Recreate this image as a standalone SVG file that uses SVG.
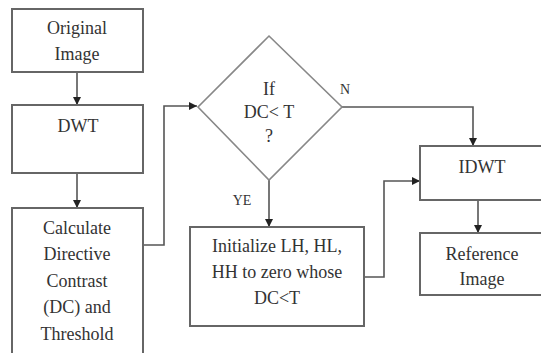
<svg xmlns="http://www.w3.org/2000/svg" width="541" height="353" viewBox="0 0 541 353">
<defs>
<marker id="ah" viewBox="0 0 10 10" refX="10" refY="5" markerWidth="8" markerHeight="8" markerUnits="userSpaceOnUse" orient="auto">
<path d="M0,0 L10,5 L0,10 Z" fill="#222"/>
</marker>
<style>
.box{fill:#fff;stroke:#666;stroke-width:2}
text{font-family:'Liberation Serif','Times New Roman',Times,'DejaVu Serif','Noto Serif',FreeSerif,serif}
.t{font-size:18px;fill:#333;text-anchor:middle}
.s{font-size:14px;fill:#333;text-anchor:middle}
.c{fill:none;stroke:#555;stroke-width:1.6}
</style>
</defs>
<rect width="541" height="353" fill="#fff"/>
<g id="connectors">
<path class="c" d="M77,72 V105" marker-end="url(#ah)"/>
<path class="c" d="M77,173 V208" marker-end="url(#ah)"/>
<path class="c" d="M143,245 H164 V106 H197" marker-end="url(#ah)"/>
<path class="c" d="M342,107 H473 V146" marker-end="url(#ah)"/>
<path class="c" d="M269,180 V227" marker-end="url(#ah)"/>
<path class="c" d="M364,277 H384 V181 H420" marker-end="url(#ah)"/>
<path class="c" d="M478,200 V233" marker-end="url(#ah)"/>
<text class="s" x="345" y="94">N</text>
<text class="s" x="242" y="205">YE</text>
</g>
<g id="original">
<rect class="box" x="12" y="9" width="131" height="63"/>
<text class="t" x="77" y="34">Original</text>
<text class="t" x="77" y="60">Image</text>
</g>
<g id="dwt">
<rect class="box" x="12" y="105" width="131" height="68"/>
<text class="t" x="78" y="132">DWT</text>
</g>
<g id="calculate">
<rect class="box" x="12" y="208" width="131" height="150"/>
<text class="t" x="77" y="234">Calculate</text>
<text class="t" x="77" y="260">Directive</text>
<text class="t" x="77" y="287">Contrast</text>
<text class="t" x="77" y="313">(DC) and</text>
<text class="t" x="77" y="340">Threshold</text>
</g>
<g id="decision">
<polygon points="269,36 342,107 269,180 198,107" fill="#fff" stroke="#888" stroke-width="1.6"/>
<text class="t" x="269" y="95">If</text>
<text class="t" x="269" y="118">DC&lt; T</text>
<text class="t" x="269" y="142">?</text>
</g>
<g id="initialize">
<rect class="box" x="190" y="227" width="174" height="99"/>
<text class="t" x="277" y="252">Initialize LH, HL,</text>
<text class="t" x="277" y="278">HH to zero whose</text>
<text class="t" x="277" y="304">DC&lt;T</text>
</g>
<g id="idwt">
<rect class="box" x="420" y="146" width="130" height="54"/>
<text class="t" x="482" y="173">IDWT</text>
</g>
<g id="reference">
<rect class="box" x="420" y="233" width="130" height="62"/>
<text class="t" x="482" y="260">Reference</text>
<text class="t" x="482" y="285">Image</text>
</g>
</svg>
